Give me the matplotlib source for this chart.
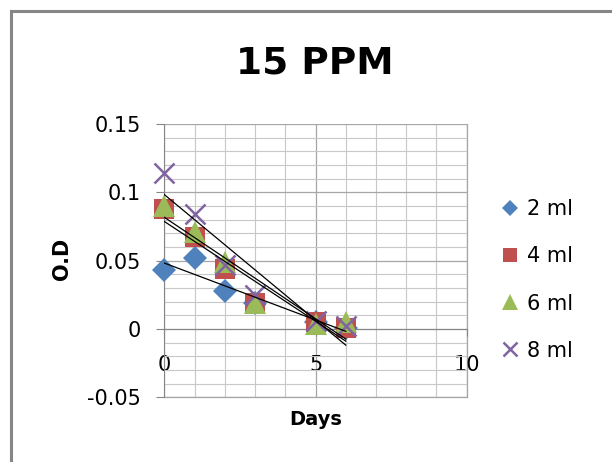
import numpy as np
import matplotlib.pyplot as plt
from matplotlib.lines import Line2D

days = [0, 1, 2, 3, 5, 6]
od_2ml = [0.043, 0.052, 0.028, 0.019, 0.005, 0.001]
od_4ml = [0.088, 0.067, 0.044, 0.019, 0.005, 0.001]
od_6ml = [0.090, 0.071, 0.049, 0.019, 0.004, 0.005]
od_8ml = [0.114, 0.084, 0.047, 0.025, 0.006, 0.002]
labels = ['2 ml', '4 ml', '6 ml', '8 ml']

plt.rcParams['font.family'] = ['DejaVu Sans']

fig = plt.figure(figsize=(6.12, 4.62), dpi=100)
ax = fig.add_axes([0.2685, 0.14, 0.4941, 0.5916])

series = [od_2ml, od_4ml, od_6ml, od_8ml]
styles = [dict(marker='D', color='#4F81BD', ms=12, mew=0),
          dict(marker='s', color='#C0504D', ms=15, mew=0),
          dict(marker='^', color='#9BBB59', ms=16, mew=0),
          dict(marker='x', color='#8064A2', ms=15, mew=1.8)]

handles = []
for ys, st, lab in zip(series, styles, labels):
    h, = ax.plot(days, ys, ls='none', label=lab, zorder=3, clip_on=False, **st)
    handles.append(h)

# linear trendlines
for ys in series:
    k, b = np.polyfit(days, ys, 1)
    xs = np.array([days[0], days[-1]])
    ax.plot(xs, k * xs + b, color='black', lw=0.9, zorder=4)

ax.set_xlim(0, 10)
ax.set_ylim(-0.05, 0.15)
ax.set_xticks([0, 5, 10])
ax.set_xticklabels(['0', '5', '10'])
ax.set_xticks(np.arange(0, 11, 1), minor=True)
ax.set_yticks([-0.05, 0, 0.05, 0.1, 0.15])
ax.set_yticklabels(['-0.05', '0', '0.05', '0.1', '0.15'])
ax.set_yticks(np.arange(-0.05, 0.151, 0.01), minor=True)

ax.grid(which='major', color='#A6A6A6', lw=0.9)
ax.grid(which='minor', color='#C8C8C8', lw=0.8)
ax.set_axisbelow(True)
ax.axhline(-0.05, color='#A6A6A6', lw=0.9, clip_on=False, zorder=0.5)
ax.axvline(10, color='#A6A6A6', lw=0.9, clip_on=False, zorder=0.5)

for s in ['top', 'right']:
    ax.spines[s].set_visible(False)
ax.spines['left'].set_color('#868686')
ax.spines['bottom'].set_color('#868686')
ax.spines['bottom'].set_position(('data', 0))

ax.tick_params(axis='y', which='major', length=6, color='#868686', pad=11, labelsize=15)
ax.tick_params(axis='x', which='major', length=5, color='#868686', pad=14, labelsize=15)
ax.tick_params(which='minor', length=0)

fig.text(0.515, 0.862, '15 PPM', ha='center', va='center', fontsize=27, fontweight='bold')
fig.text(0.101, 0.44, 'O.D', ha='center', va='center', rotation=90, fontsize=15, fontweight='bold')
fig.text(0.516, 0.091, 'Days', ha='center', va='center', fontsize=14, fontweight='bold')

leg = fig.legend(handles=handles, loc='center left', bbox_to_anchor=(0.786, 0.394),
                 frameon=False, fontsize=15, labelspacing=1.3, handlelength=1.0,
                 handletextpad=0.3, markerscale=0.7)

# chart border (only top and left visible in the crop)
fig.add_artist(Line2D([10.5 / 612, 10.5 / 612], [0, 1 - 11 / 462], color='#868686', lw=2.2,
                      transform=fig.transFigure))
fig.add_artist(Line2D([10.5 / 612, 1], [1 - 11 / 462, 1 - 11 / 462], color='#868686', lw=2.2,
                      transform=fig.transFigure))

fig.savefig('out.png', dpi=100)
